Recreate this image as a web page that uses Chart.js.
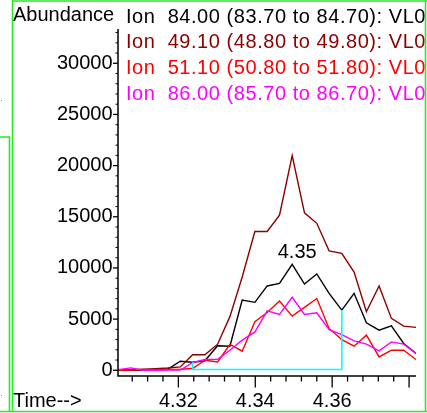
<!DOCTYPE html>
<html>
<head>
<meta charset="utf-8">
<script src="https://cdn.jsdelivr.net/npm/chart.js@4.4.1/dist/chart.umd.min.js"></script>
<style>
  html, body { margin: 0; padding: 0; background: #fff; }
  #wrap { position: relative; width: 427px; height: 413px; }
</style>
</head>
<body>
<div id="wrap"><canvas id="tic" width="427" height="413"></canvas></div>
<script>
// retention time (min) of each scan
const times = [4.3043, 4.3076, 4.3108, 4.3140, 4.3172, 4.3205, 4.3237, 4.3269, 4.3302, 4.3334,
  4.3366, 4.3399, 4.3431, 4.3463, 4.3496, 4.3528, 4.3560, 4.3592, 4.3625, 4.3657,
  4.3689, 4.3722, 4.3754, 4.3786, 4.3818];

// abundance per ion
const ion84 = [0, 30, 0, 50, 100, 880, 790, 930, 2400, 2350, 6860, 6640, 8240, 8480, 10360,
  8430, 9410, 7520, 5880, 7520, 4640, 3920, 4340, 2620, 1640];
const ion49 = [30, 60, 100, 150, 220, 330, 1520, 1520, 2550, 5240, 9120, 13560, 13560, 15150, 20980,
  15390, 14360, 11670, 11420, 9600, 5720, 8240, 5070, 4310, 4190];
const ion51 = [0, 30, 50, 50, 80, 100, 170, 980, 810, 2520, 1860, 4750, 5640, 6760, 5290,
  6150, 7010, 4090, 2990, 2350, 3430, 1300, 1960, 1960, 1050];
const ion86 = [50, 230, 0, 0, 20, 20, 740, 1050, 1080, 1950, 2940, 3750, 5810, 5460, 7130,
  5460, 5620, 3970, 3480, 2870, 2550, 1890, 2770, 2550, 1640];

// integration baseline
const baseTimes = [4.3237, 4.3237, 4.3625, 4.3625];
const baseValues = [790, 70, 70, 5880];

const xTicks = [4.308, 4.312, 4.316, 4.320, 4.324, 4.328, 4.332, 4.336, 4.340, 4.344,
  4.348, 4.352, 4.356, 4.360, 4.364, 4.368, 4.372, 4.376, 4.380];
const xMajor = [4.32, 4.34, 4.36, 4.38];
const xLabels = ['4.32', '4.34', '4.36'];
const yTicks = [0, 5000, 10000, 15000, 20000, 25000, 30000];

const legendLines = [
  { text: 'Ion  84.00 (83.70 to 84.70): VL0', color: '#000000' },
  { text: 'Ion  49.10 (48.80 to 49.80): VL0', color: '#8b0000' },
  { text: 'Ion  51.10 (50.80 to 51.80): VL0', color: '#ff0000' },
  { text: 'Ion  86.00 (85.70 to 86.70): VL0', color: '#ff00ff' }
];
const peakLabel = '4.35';

const FONT = '20px "Liberation Sans", Arial, sans-serif';

function pts(xs, ys) {
  return xs.map((x, i) => ({ x, y: ys[i] }));
}

const decor = {
  id: 'decor',
  afterDraw(chart) {
    const ctx = chart.ctx;
    const xs = chart.scales.x, ys = chart.scales.y;
    const a = chart.chartArea;
    ctx.save();

    // axes
    ctx.strokeStyle = '#000';
    ctx.lineWidth = 1.5;
    ctx.beginPath();
    ctx.moveTo(a.left, a.top);
    ctx.lineTo(a.left, a.bottom);
    ctx.lineTo(a.right, a.bottom);
    ctx.stroke();

    ctx.lineWidth = 1.3;
    xTicks.forEach(v => {
      const px = xs.getPixelForValue(v);
      const major = xMajor.some(m => Math.abs(m - v) < 1e-6);
      ctx.beginPath();
      ctx.moveTo(px, a.bottom);
      ctx.lineTo(px, a.bottom + (major ? 11.5 : 5.5));
      ctx.stroke();
    });
    yTicks.forEach(v => {
      const py = ys.getPixelForValue(v);
      ctx.beginPath();
      ctx.moveTo(a.left - 5, py);
      ctx.lineTo(a.left, py);
      ctx.stroke();
    });
    ctx.lineWidth = 1;
    for (let v = 1000; v < ys.max; v += 1000) {
      if (v % 5000 === 0) continue;
      const py = ys.getPixelForValue(v);
      ctx.beginPath();
      ctx.moveTo(a.left - 2.5, py);
      ctx.lineTo(a.left, py);
      ctx.stroke();
    }

    // texts
    ctx.font = FONT;
    ctx.textBaseline = 'alphabetic';
    ctx.textAlign = 'left';
    ctx.fillStyle = '#000';
    ctx.fillText('Abundance', 13, 21);
    ctx.fillText('Time-->', 13, 406.5);

    if ('letterSpacing' in ctx) ctx.letterSpacing = '0.55px';
    legendLines.forEach((l, i) => {
      ctx.fillStyle = l.color;
      ctx.fillText(l.text, 126, 22.7 + i * 25.6);
    });
    if ('letterSpacing' in ctx) ctx.letterSpacing = '0px';

    // peak label
    const pi = ion84.indexOf(Math.max(...ion84));
    ctx.fillStyle = '#000';
    ctx.textAlign = 'center';
    ctx.fillText(peakLabel, xs.getPixelForValue(times[pi]) + 5, ys.getPixelForValue(ion84[pi]) - 6);

    // green frame
    ctx.strokeStyle = '#22ee22';
    ctx.lineWidth = 1.6;
    ctx.beginPath();
    ctx.moveTo(12.5, 0); ctx.lineTo(12.5, 411.5);
    ctx.moveTo(12, 1); ctx.lineTo(427, 1);
    ctx.moveTo(425.5, 0); ctx.lineTo(425.5, 411.5);
    ctx.moveTo(0, 411.5); ctx.lineTo(427, 411.5);
    ctx.moveTo(9.5, 137); ctx.lineTo(9.5, 411.5);
    ctx.moveTo(0, 137); ctx.lineTo(10, 137);
    ctx.stroke();
    ctx.fillStyle = '#888';
    ctx.fillRect(1, 100, 1, 1);
    ctx.fillRect(1, 395, 1, 1);
    ctx.restore();
  }
};

const lineStyle = { borderWidth: 1.4, pointRadius: 0, tension: 0, fill: false };

new Chart(document.getElementById('tic'), {
  type: 'line',
  data: {
    datasets: [
      { ...lineStyle, label: 'Ion 84.00', data: pts(times, ion84), borderColor: '#000000', order: 5 },
      { ...lineStyle, label: 'Ion 49.10', data: pts(times, ion49), borderColor: '#8b0000', order: 4 },
      { ...lineStyle, label: 'Ion 51.10', data: pts(times, ion51), borderColor: '#ff0000', order: 3 },
      { ...lineStyle, label: 'Ion 86.00', data: pts(times, ion86), borderColor: '#ff00ff', order: 2 },
      { ...lineStyle, label: 'baseline', data: pts(baseTimes, baseValues), borderColor: '#00ffff', borderWidth: 1.6, order: 1 }
    ]
  },
  options: {
    responsive: false,
    animation: false,
    devicePixelRatio: 1,
    layout: { padding: { left: 0, right: 11, top: 29, bottom: 0 } },
    plugins: { legend: { display: false }, tooltip: { enabled: false } },
    scales: {
      x: {
        type: 'linear',
        min: 4.3043,
        max: 4.3818,
        afterBuildTicks: axis => { axis.ticks = xTicks.map(v => ({ value: v })); },
        afterFit: axis => { axis.height = 37; },
        grid: { display: false, drawTicks: false },
        border: { display: false },
        ticks: {
          autoSkip: false,
          maxRotation: 0,
          padding: 13,
          color: '#000',
          font: { family: '"Liberation Sans", Arial, sans-serif', size: 20 },
          callback: v => {
            const s = v.toFixed(2);
            return xLabels.includes(s) && Math.abs(v - Number(s)) < 1e-6 ? s : '';
          }
        }
      },
      y: {
        min: -560,
        max: 33350,
        afterBuildTicks: axis => { axis.ticks = yTicks.map(v => ({ value: v })); },
        afterFit: axis => { axis.width = 118; },
        grid: { display: false, drawTicks: false },
        border: { display: false },
        ticks: {
          padding: 5.5,
          color: '#000',
          font: { family: '"Liberation Sans", Arial, sans-serif', size: 20 },
          callback: v => String(v)
        }
      }
    }
  },
  plugins: [decor]
});
</script>
</body>
</html>
